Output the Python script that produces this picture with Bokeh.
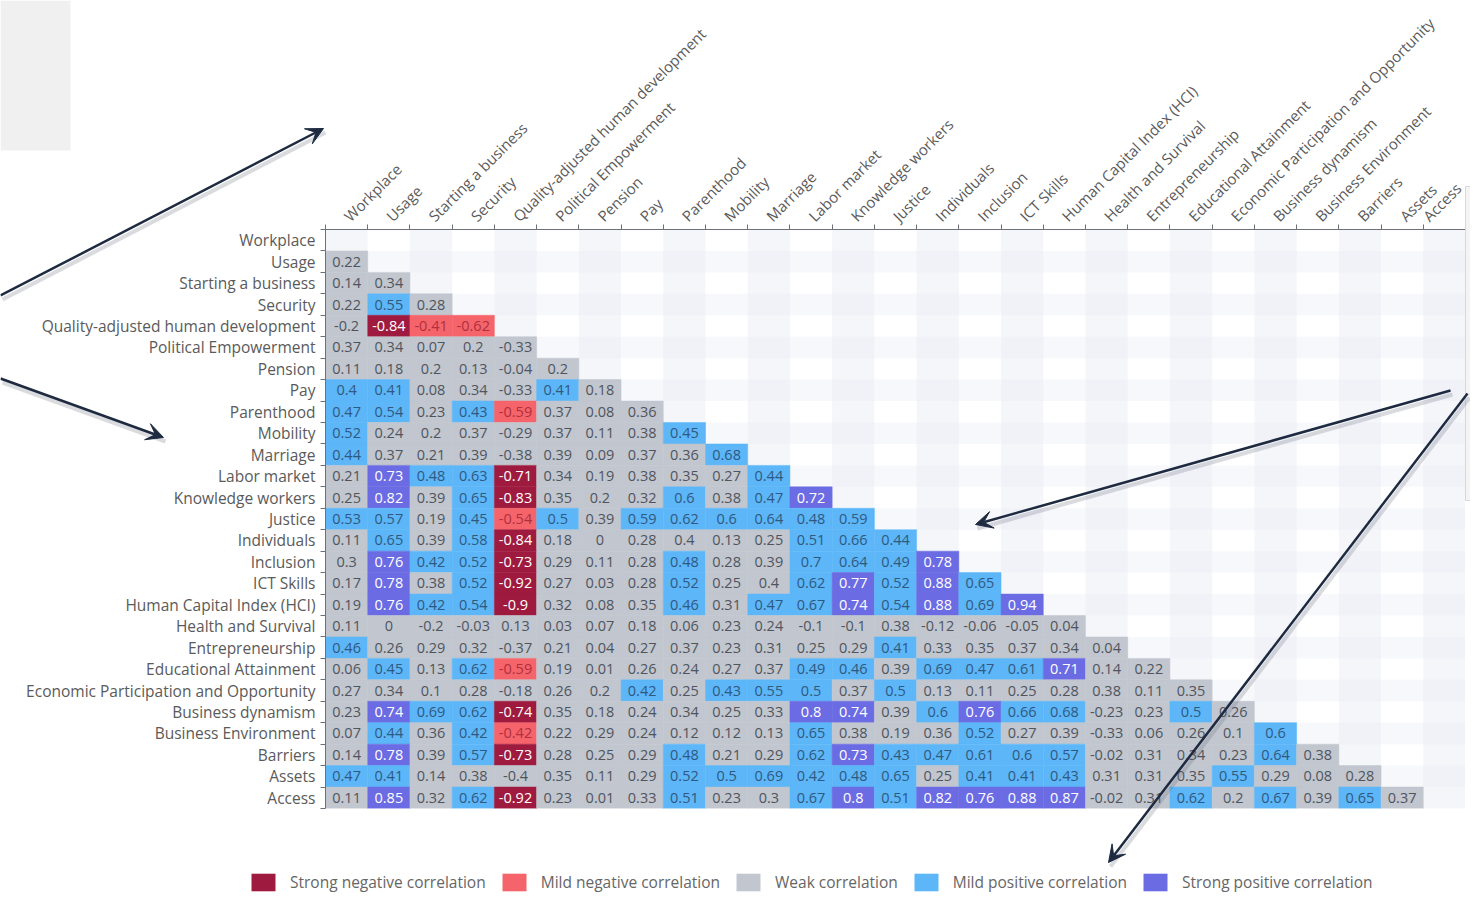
import math
from bokeh.plotting import figure
from bokeh.models import (Range1d, FixedTicker, ColumnDataSource, Legend, LegendItem,
                          Arrow, VeeHead, GridBox, Column)
from bokeh.core.properties import value
from bokeh.embed import file_html
from bokeh.resources import INLINE

labels = ["Workplace", "Usage", "Starting a business", "Security",
          "Quality-adjusted human development", "Political Empowerment", "Pension", "Pay",
          "Parenthood", "Mobility", "Marriage", "Labor market", "Knowledge workers", "Justice",
          "Individuals", "Inclusion", "ICT Skills", "Human Capital Index (HCI)",
          "Health and Survival", "Entrepreneurship", "Educational Attainment",
          "Economic Participation and Opportunity", "Business dynamism",
          "Business Environment", "Barriers", "Assets", "Access"]

# lower-triangle correlations, one list per row (row variable vs. earlier columns)
usage = [0.22]
starting_a_business = [0.14, 0.34]
security = [0.22, 0.55, 0.28]
quality_adj_hd = [-0.2, -0.84, -0.41, -0.62]
political_empowerment = [0.37, 0.34, 0.07, 0.2, -0.33]
pension = [0.11, 0.18, 0.2, 0.13, -0.04, 0.2]
pay = [0.402, 0.41, 0.08, 0.34, -0.33, 0.41, 0.18]
parenthood = [0.47, 0.54, 0.23, 0.43, -0.59, 0.37, 0.08, 0.36]
mobility = [0.52, 0.24, 0.2, 0.37, -0.29, 0.37, 0.11, 0.38, 0.45]
marriage = [0.44, 0.37, 0.21, 0.39, -0.38, 0.39, 0.09, 0.37, 0.36, 0.68]
labor_market = [0.21, 0.73, 0.48, 0.63, -0.71, 0.34, 0.19, 0.38, 0.35, 0.27, 0.44]
knowledge_workers = [0.25, 0.82, 0.39, 0.65, -0.83, 0.35, 0.2, 0.32, 0.6, 0.38, 0.47, 0.72]
justice = [0.53, 0.57, 0.19, 0.45, -0.54, 0.5, 0.39, 0.59, 0.62, 0.6, 0.64, 0.48, 0.59]
individuals = [0.11, 0.65, 0.39, 0.58, -0.84, 0.18, 0.0, 0.28, 0.398, 0.13, 0.25, 0.51, 0.66,
               0.44]
inclusion = [0.3, 0.76, 0.42, 0.52, -0.73, 0.29, 0.11, 0.28, 0.48, 0.28, 0.39, 0.698, 0.64,
             0.49, 0.78]
ict_skills = [0.17, 0.78, 0.38, 0.52, -0.92, 0.27, 0.03, 0.28, 0.52, 0.25, 0.398, 0.62, 0.77,
              0.52, 0.88, 0.65]
hci = [0.19, 0.76, 0.42, 0.54, -0.9, 0.32, 0.08, 0.35, 0.46, 0.31, 0.47, 0.67, 0.74, 0.54,
       0.88, 0.69, 0.94]
health_survival = [0.11, 0.0, -0.2, -0.03, 0.13, 0.03, 0.07, 0.18, 0.06, 0.23, 0.24, -0.1,
                   -0.1, 0.38, -0.12, -0.06, -0.05, 0.04]
entrepreneurship = [0.46, 0.26, 0.29, 0.32, -0.37, 0.21, 0.04, 0.27, 0.37, 0.23, 0.31, 0.25,
                    0.29, 0.41, 0.33, 0.35, 0.37, 0.34, 0.04]
educational_attainment = [0.06, 0.45, 0.13, 0.62, -0.59, 0.19, 0.01, 0.26, 0.24, 0.27, 0.37,
                          0.49, 0.46, 0.39, 0.69, 0.47, 0.61, 0.71, 0.14, 0.22]
econ_participation = [0.27, 0.34, 0.1, 0.28, -0.18, 0.26, 0.2, 0.42, 0.25, 0.43, 0.55, 0.5,
                      0.37, 0.5, 0.13, 0.11, 0.25, 0.28, 0.38, 0.11, 0.35]
business_dynamism = [0.23, 0.74, 0.69, 0.62, -0.74, 0.35, 0.18, 0.24, 0.34, 0.25, 0.33, 0.8,
                     0.74, 0.39, 0.6, 0.76, 0.66, 0.68, -0.23, 0.23, 0.5, 0.26]
business_environment = [0.07, 0.44, 0.36, 0.42, -0.42, 0.22, 0.29, 0.24, 0.12, 0.12, 0.13,
                        0.65, 0.38, 0.19, 0.36, 0.52, 0.27, 0.39, -0.33, 0.06, 0.26, 0.1, 0.6]
barriers = [0.14, 0.78, 0.39, 0.57, -0.73, 0.28, 0.25, 0.29, 0.48, 0.21, 0.29, 0.62, 0.73,
            0.43, 0.47, 0.61, 0.6, 0.57, -0.02, 0.31, 0.34, 0.23, 0.64, 0.38]
assets = [0.47, 0.41, 0.14, 0.38, -0.398, 0.35, 0.11, 0.29, 0.52, 0.5, 0.69, 0.42, 0.48, 0.65,
          0.25, 0.41, 0.41, 0.43, 0.31, 0.31, 0.35, 0.55, 0.29, 0.08, 0.28]
access = [0.11, 0.85, 0.32, 0.62, -0.92, 0.23, 0.01, 0.33, 0.51, 0.23, 0.3, 0.67, 0.8, 0.51,
          0.82, 0.76, 0.88, 0.87, -0.02, 0.31, 0.62, 0.2, 0.67, 0.39, 0.65, 0.37]

rows = [[], usage, starting_a_business, security, quality_adj_hd, political_empowerment,
        pension, pay, parenthood, mobility, marriage, labor_market, knowledge_workers, justice,
        individuals, inclusion, ict_skills, hci, health_survival, entrepreneurship,
        educational_attainment, econ_participation, business_dynamism, business_environment,
        barriers, assets, access]

cat_names = ["Strong negative correlation", "Mild negative correlation", "Weak correlation",
             "Mild positive correlation", "Strong positive correlation"]
cat_colors = ["#9e1b3f", "#f5646b", "#c1c6cf", "#5cb6f8", "#6b6be3"]
cat_text = ["#ffffff", "#b0303c", "#50555d", "#30597f", "#ffffff"]


def category(v):
    if v <= -0.7:
        return 0
    if v <= -0.4:
        return 1
    if v < 0.4:
        return 2
    if v < 0.7:
        return 3
    return 4


def fmt(v):
    s = f"{round(v, 2):.2f}".rstrip("0").rstrip(".")
    return "0" if s in ("-0", "") else s


n = len(labels)
xs, ys, cols, tcols, txt = [], [], [], [], []
for i, row in enumerate(rows):
    for j, v in enumerate(row):
        c = category(v)
        xs.append(j + 0.5)
        ys.append(i + 0.5)
        cols.append(cat_colors[c])
        tcols.append(cat_text[c])
        txt.append(fmt(v))
src = ColumnDataSource(dict(x=xs, y=ys, color=cols, tcolor=tcols, label=txt))

FONT = "Open Sans"
W, H = 1470, 900
p = figure(width=1465, height=H, output_backend="svg", toolbar_location=None,
           x_range=Range1d(0, n), y_range=Range1d(n, 0), x_axis_location="above",
           min_border_left=325, min_border_right=0, min_border_top=229,
           min_border_bottom=92)
p.outline_line_color = None
p.grid.visible = False

# faint split-area stripes in the empty region
stripe_x = [k + 0.5 for k in range(0, n, 2)]
p.rect(x=stripe_x, y=[n / 2] * len(stripe_x), width=1, height=n, fill_color="#e9ecf4",
       fill_alpha=0.45, line_color=None)
stripe_y = [k + 0.5 for k in range(1, n, 2)]
p.rect(x=[n / 2] * len(stripe_y), y=stripe_y, width=n, height=1, fill_color="#e9ecf4",
       fill_alpha=0.35, line_color=None)

p.rect(x="x", y="y", width=1, height=1, fill_color="color", line_color="color",
       line_width=0.5, source=src)
p.text(x="x", y="y", text="label", text_color="tcolor", text_align="center",
       text_baseline="middle", text_font=value(FONT), text_font_size="14.5px", source=src)

centers = [k + 0.5 for k in range(n)]
bounds = list(range(n + 1))
for ax in (p.xaxis[0], p.yaxis[0]):
    ax.ticker = FixedTicker(ticks=centers, minor_ticks=bounds)
    ax.major_label_overrides = {c: lab for c, lab in zip(centers, labels)}
    ax.major_tick_line_color = None
    ax.minor_tick_line_color = "#6e7079"
    ax.minor_tick_out = 5
    ax.minor_tick_in = 0
    ax.axis_line_color = "#6e7079"
    ax.major_label_text_font = FONT
    ax.major_label_text_color = "#5a5a5a"
    ax.major_label_standoff = 4
p.yaxis[0].major_label_text_font_size = "15.5px"
p.xaxis[0].major_label_text_font_size = "15px"
p.xaxis[0].major_label_orientation = math.pi / 4
p.xaxis[0].major_label_standoff = 5

# overlay canvas (pixel coordinates, y downward) for legend and decorations
q = figure(width=W, height=H, output_backend="svg", toolbar_location=None,
           x_range=Range1d(0, W), y_range=Range1d(H, 0),
           min_border=0, min_border_left=0, min_border_right=0, min_border_top=0,
           min_border_bottom=0)
q.axis.visible = False
q.grid.visible = False
q.outline_line_color = None
q.background_fill_color = None
q.border_fill_color = None

# grey panel top-left and thin panel at right edge
q.quad(left=[0], right=[70], top=[0], bottom=[150], fill_color="#f0f0f1", line_color=None)
q.quad(left=[1465], right=[1480], top=[186], bottom=[500], fill_color="#f4f4f4",
       line_color="#d8d8d8", line_width=1)

arrow_specs = [((0, 295), (323, 128)), ((0, 378), (163, 437)),
               ((1450, 390), (975, 524)), ((1467, 393), (1108, 862))]
for (x0, y0), (x1, y1) in arrow_specs:
    q.line([x0 + 2, x1 + 2], [y0 + 4, y1 + 4], line_color="#6a7080", line_alpha=0.25,
           line_width=4)
for (x0, y0), (x1, y1) in arrow_specs:
    q.add_layout(Arrow(x_start=x0, y_start=y0, x_end=x1, y_end=y1, line_color="#1d2a40",
                       line_width=2.5,
                       end=VeeHead(size=17, fill_color="#1d2a40", line_color="#1d2a40")))

items = []
for name, col in zip(cat_names, cat_colors):
    r = q.quad(left=[-60], right=[-40], top=[-60], bottom=[-40], fill_color=col,
               line_color=None, border_radius=3)
    items.append(LegendItem(label=name, renderers=[r]))
leg = Legend(items=items, orientation="horizontal", location=(248, 7),
             glyph_width=30, glyph_height=22, label_standoff=12, spacing=13,
             label_text_font=FONT, label_text_font_size="15.5px", label_text_color="#666666",
             border_line_color=None, background_fill_alpha=0, padding=4, margin=0)
q.add_layout(leg)

layout = GridBox(children=[(Column(children=[p]), 0, 0), (Column(children=[q]), 0, 0)])
open("out.html", "w").write(file_html(layout, INLINE))
